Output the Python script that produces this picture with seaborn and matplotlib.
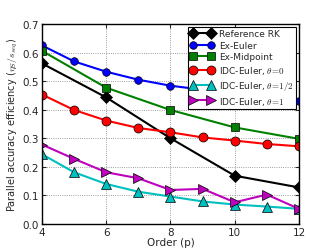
import matplotlib
matplotlib.use("Agg")
import matplotlib.pyplot as plt
from matplotlib.lines import Line2D
import seaborn as sns
import pandas as pd

sns.set_style("ticks")
plt.rcParams['font.family'] = ['DejaVu Sans']
plt.rcParams['mathtext.fontset'] = 'cm'

x_even = [4, 6, 8, 10, 12]
x_all = [4, 5, 6, 7, 8, 9, 10, 11, 12]

ref_rk = [0.562, 0.443, 0.300, 0.169, 0.128]
ex_euler = [0.625, 0.569, 0.533, 0.505, 0.484, 0.470, 0.452, 0.440, 0.432]
ex_mid = [0.606, 0.477, 0.399, 0.338, 0.298]
idc_0 = [0.453, 0.399, 0.362, 0.336, 0.321, 0.303, 0.292, 0.280, 0.272]
idc_half = [0.244, 0.181, 0.140, 0.113, 0.096, 0.079, 0.068, 0.061, 0.053]
idc_1 = [0.278, 0.228, 0.181, 0.160, 0.119, 0.123, 0.076, 0.103, 0.053]

series = [
    ("Reference RK", x_even, ref_rk, "black", "D", 6),
    ("Ex-Euler", x_all, ex_euler, "blue", "o", 5.5),
    ("Ex-Midpoint", x_even, ex_mid, "green", "s", 6),
    (r"IDC-Euler, $\theta\!=\!0$", x_all, idc_0, "red", "o", 6.5),
    (r"IDC-Euler, $\theta\!=\!1/2$", x_all, idc_half, "c", "^", 6.5),
    (r"IDC-Euler, $\theta\!=\!1$", x_all, idc_1, "m", ">", 6.5),
]

fig = plt.figure(figsize=(3.32, 2.51), dpi=100)
ax = fig.add_axes([0.1265, 0.1036, 0.774, 0.7968])

handles = []
labels = []
for name, xs, ys, color, marker, ms in series:
    df = pd.DataFrame({"x": xs, "y": ys})
    sns.lineplot(data=df, x="x", y="y", ax=ax, color=color, marker=marker,
                 markersize=ms, linewidth=1.5, markeredgecolor="black",
                 markeredgewidth=0.5, legend=False)
    handles.append(Line2D([], [], color=color, marker=marker, markersize=ms,
                          linewidth=1.5, markeredgecolor="black",
                          markeredgewidth=0.5))
    labels.append(name)

ax.set_xlim(4, 12)
ax.set_ylim(0, 0.7)
ax.set_xticks([4, 6, 8, 10, 12])
ax.set_yticks([0.0, 0.1, 0.2, 0.3, 0.4, 0.5, 0.6, 0.7])
ax.set_yticklabels(["0.0", "0.1", "0.2", "0.3", "0.4", "0.5", "0.6", "0.7"])
ax.tick_params(labelsize=7.5, direction="in", length=3, top=True, right=True, pad=2)
ax.grid(True, linestyle=":", color="gray", linewidth=0.6)
ax.set_xlabel("Order (p)", fontsize=7.5, labelpad=0)
ax.set_ylabel(r"Parallel accuracy efficiency ($\eta_S/s_{seq}$)", fontsize=7, labelpad=2)
for sp in ax.spines.values():
    sp.set_linewidth(1.0)
    sp.set_color("black")

leg = ax.legend(handles, labels, loc="upper right", fontsize=6.5, numpoints=2,
                frameon=True, fancybox=False, borderpad=0.25, labelspacing=0.3,
                handlelength=2.6, handletextpad=0.6, borderaxespad=0.3)
leg.get_frame().set_edgecolor("black")
leg.get_frame().set_linewidth(0.8)
leg.get_frame().set_alpha(1)

fig.savefig("out.png", dpi=100)
